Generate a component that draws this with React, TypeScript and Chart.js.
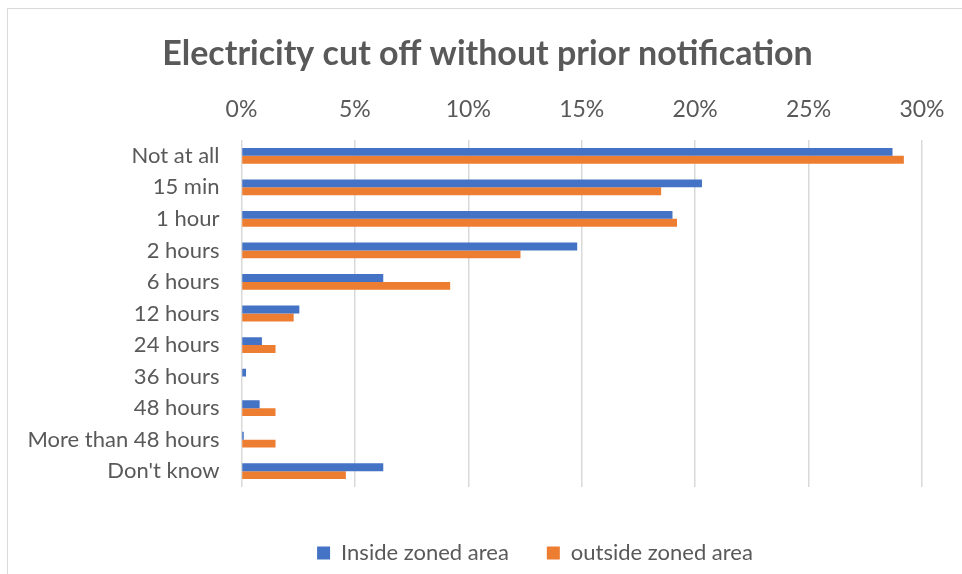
import React, { useEffect, useRef } from "react";
import { Chart, registerables } from "chart.js";

Chart.register(...registerables);

// Share of respondents by notice time before a cut-off, in percent
const categories = [
  "Not at all",
  "15 min",
  "1 hour",
  "2 hours",
  "6 hours",
  "12 hours",
  "24 hours",
  "36 hours",
  "48 hours",
  "More than 48 hours",
  "Don't know",
];
const insideZoned = [28.7, 20.3, 19.0, 14.8, 6.25, 2.55, 0.9, 0.2, 0.8, 0.1, 6.25];
const outsideZoned = [29.2, 18.5, 19.2, 12.3, 9.2, 2.3, 1.5, 0, 1.5, 1.5, 4.6];
const seriesNames = ["Inside zoned area", "outside zoned area"];
const xTicks = [0, 5, 10, 15, 20, 25, 30];

const TEXT = "#595959";
const GRID = "#d9d9d9";
const FONT = "Lato, 'Open Sans', sans-serif";

// Shifts the title and legend blocks sideways/down inside the frame
const blockOffsets = {
  id: "blockOffsets",
  afterLayout(chart: any) {
    const t = chart.titleBlock;
    if (t) {
      t.left += 21.5;
      t.right += 21.5;
    }
    const l = chart.legend;
    if (l) {
      l.left += 69;
      l.right += 69;
      l.top += 17;
      l.bottom += 17;
    }
  },
};

export default function App() {
  const ref = useRef<HTMLCanvasElement | null>(null);

  useEffect(() => {
    if (!ref.current) return;
    const chart = new Chart(ref.current, {
      type: "bar",
      data: {
        labels: categories,
        datasets: [
          {
            label: seriesNames[0],
            data: insideZoned,
            backgroundColor: "#4472C4",
            barPercentage: 1,
            categoryPercentage: 0.5,
          },
          {
            label: seriesNames[1],
            data: outsideZoned,
            backgroundColor: "#ED7D31",
            barPercentage: 1,
            categoryPercentage: 0.5,
          },
        ],
      },
      options: {
        indexAxis: "y",
        responsive: false,
        animation: false,
        events: [],
        devicePixelRatio: 1,
        layout: { padding: { left: 10, right: 40, top: 0, bottom: 17 } },
        scales: {
          x: {
            type: "linear",
            position: "top",
            min: 0,
            max: 30,
            afterBuildTicks: (s: any) => {
              s.ticks = xTicks.map((v) => ({ value: v }));
            },
            afterFit: (s: any) => {
              s.height = 65.8;
            },
            ticks: {
              callback: (v: any) => v + "%",
              color: TEXT,
              font: { family: FONT, size: 23 },
              padding: 17,
            },
            grid: { color: GRID, lineWidth: 1.5, drawTicks: false },
            border: { display: false },
          },
          y: {
            type: "category",
            afterFit: (s: any) => {
              s.width = 231.5;
            },
            ticks: {
              color: TEXT,
              font: { family: FONT, size: 22 },
              padding: 22,
            },
            grid: { display: false, drawTicks: false },
            border: { display: false },
          },
        },
        plugins: {
          title: {
            display: true,
            text: "Electricity cut off without prior notification",
            color: TEXT,
            font: { family: FONT, size: 34, weight: "bold" },
            padding: { top: 33.4, bottom: 0 },
          },
          legend: {
            display: true,
            position: "bottom",
            labels: {
              boxWidth: 13,
              boxHeight: 13,
              padding: 38,
              color: TEXT,
              font: { family: FONT, size: 22 },
            },
          },
          tooltip: { enabled: false },
        },
      },
      plugins: [blockOffsets],
    });
    return () => chart.destroy();
  }, []);

  return (
    <div
      style={{
        position: "fixed",
        left: 0,
        top: 0,
        width: 962,
        height: 574,
        background: "#fff",
        overflow: "hidden",
      }}
    >
      <div
        style={{
          position: "absolute",
          left: 7,
          top: 8,
          width: 980,
          height: 600,
          border: `1px solid ${GRID}`,
          boxSizing: "border-box",
        }}
      />
      <canvas
        ref={ref}
        width={962}
        height={574}
        style={{ position: "absolute", left: 0, top: 0, width: 962, height: 574 }}
      />
    </div>
  );
}
